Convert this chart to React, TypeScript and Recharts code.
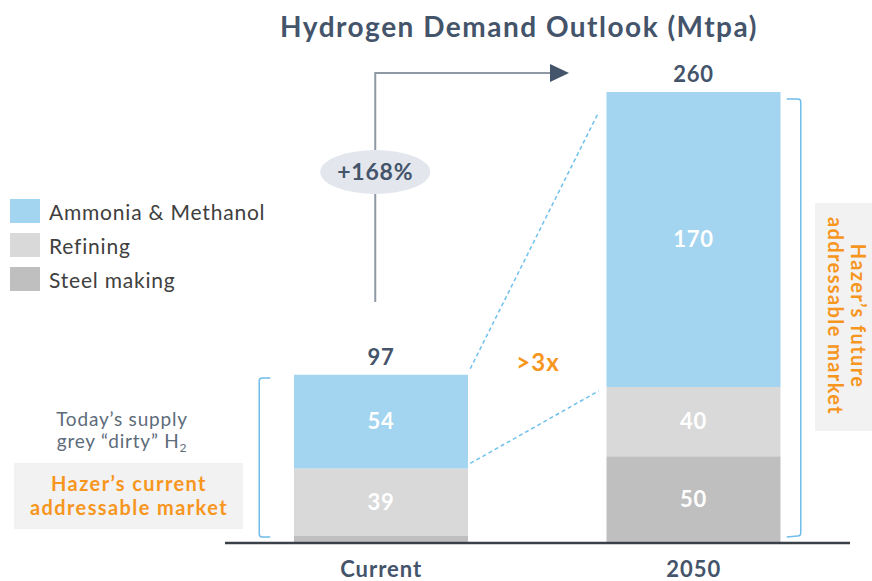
import { Bar, BarChart, LabelList, Legend, XAxis, YAxis } from "recharts";

const categories = ["Current", "2050"];
const steel = [4, 50];
const refining = [39, 40];
const ammonia = [54, 170];
const totals = [97, 260];
const growth = "+168%";
const multiple = ">3x";

const W = 872;
const H = 581;
const M = { top: 92, right: 22, left: 225, bottom: 8 };
const X_AXIS_H = 30;
const Y_MAX = 260;
const BAR = 174;

const BLUE = "#a3d4f0";
const LIGHT = "#d9d9d9";
const DARK = "#bfbfbf";
const SLATE = "#44546a";
const ORANGE = "#f7961e";
const FONT = "Lato, 'Open Sans', sans-serif";

const data = categories.map((c, i) => ({
  name: c,
  steel: steel[i],
  refining: refining[i],
  ammonia: ammonia[i],
  total: totals[i],
}));

// helpers for the overlay annotations, same geometry as the chart
const plotBottom = H - M.bottom - X_AXIS_H;
const plotH = plotBottom - M.top;
const yPx = (v: number) => plotBottom - (v / Y_MAX) * plotH;
const band = (W - M.left - M.right) / categories.length;
const xCenter = (i: number) => M.left + band * (i + 0.5);

const LEGEND = [
  { label: "Ammonia & Methanol", color: BLUE },
  { label: "Refining", color: LIGHT },
  { label: "Steel making", color: DARK },
];

function LegendBox() {
  return (
    <div style={{ fontFamily: FONT }}>
      {LEGEND.map((l) => (
        <div key={l.label} style={{ display: "flex", alignItems: "center", height: 34 }}>
          <div style={{ width: 30, height: 24, background: l.color, marginRight: 9 }} />
          <span style={{ fontSize: 21, letterSpacing: 0.8, color: "#404040" }}>{l.label}</span>
        </div>
      ))}
    </div>
  );
}

const segLabel = (v: any) => (Number(v) >= 10 ? v : "");

const NOTE = { fontFamily: FONT, fontWeight: 700, fontSize: 20, letterSpacing: 1.4, fill: ORANGE } as const;

function Overlay() {
  const cx0 = xCenter(0);
  const cx1 = xCenter(1);
  const r0 = cx0 + BAR / 2;
  const l1 = cx1 - BAR / 2;
  const r1 = cx1 + BAR / 2;
  const l0 = cx0 - BAR / 2;
  const arrowX = cx0 - 6;
  return (
    <svg width={W} height={H} style={{ position: "absolute", left: 0, top: 0, pointerEvents: "none" }}>
      <text x={519} y={37} textAnchor="middle" fontFamily={FONT} fontWeight={700} fontSize={28} letterSpacing={1.5} fill={SLATE}>
        Hydrogen Demand Outlook (Mtpa)
      </text>
      {/* growth arrow */}
      <path d={`M${arrowX},302 L${arrowX},73 L552,73`} fill="none" stroke="#8e99a5" strokeWidth={2} />
      <polygon points="550,64 569,73 550,82" fill={SLATE} />
      <ellipse cx={arrowX} cy={172} rx={55} ry={22} fill="#e3e7ed" />
      <text x={arrowX} y={180} textAnchor="middle" fontFamily={FONT} fontWeight={700} fontSize={23} letterSpacing={0.8} fill={SLATE}>
        {growth}
      </text>
      {/* dashed zoom lines */}
      <line x1={r0 + 2} y1={yPx(totals[0]) - 6} x2={l1 - 8} y2={yPx(totals[1]) + 20} stroke="#6fc0ec" strokeWidth={1.5} strokeDasharray="4 3" />
      <line x1={r0 + 2} y1={yPx(steel[0] + refining[0]) - 5} x2={l1 - 8} y2={yPx(steel[1] + refining[1]) + 4} stroke="#6fc0ec" strokeWidth={1.5} strokeDasharray="4 3" />
      <text x={538} y={371} textAnchor="middle" fontFamily={FONT} fontWeight={700} fontSize={24} letterSpacing={1} fill={ORANGE}>
        {multiple}
      </text>
      {/* brackets */}
      <path d={`M${l0 - 24},378 L${l0 - 32},378 Q${l0 - 35},378 ${l0 - 35},381 L${l0 - 35},534 Q${l0 - 35},537 ${l0 - 32},537 L${l0 - 24},537`} fill="none" stroke="#6fbde8" strokeWidth={1.5} />
      <path d={`M${r1 + 6},99 L${r1 + 17},99 Q${r1 + 20},99 ${r1 + 20},102 L${r1 + 20},533 Q${r1 + 20},536 ${r1 + 17},536 L${r1 + 6},537`} fill="none" stroke="#6fbde8" strokeWidth={1.5} />
      {/* left notes */}
      <text x={122} y={426} textAnchor="middle" fontFamily={FONT} fontSize={19} letterSpacing={0.8} fill="#5d6b7a">
        Today’s supply
      </text>
      <text x={122} y={448} textAnchor="middle" fontFamily={FONT} fontSize={19} letterSpacing={0.8} fill="#5d6b7a">
        grey “dirty” H<tspan fontSize={12} dy={4}>2</tspan>
      </text>
      <rect x={14} y={463} width={229} height={66} fill="#f2f2f2" />
      <text x={129} y={491} textAnchor="middle" {...NOTE}>
        Hazer’s current
      </text>
      <text x={129} y={515} textAnchor="middle" {...NOTE}>
        addressable market
      </text>
      {/* right note */}
      <rect x={815} y={203} width={57} height={228} fill="#f2f2f2" />
      <g transform="translate(844,316) rotate(90)">
        <text x={0} y={-7} textAnchor="middle" {...NOTE}>
          Hazer’s future
        </text>
        <text x={0} y={16} textAnchor="middle" {...NOTE}>
          addressable market
        </text>
      </g>
    </svg>
  );
}

export default function App() {
  return (
    <div style={{ position: "absolute", left: 0, top: 0, width: W, height: H, background: "#fff" }}>
      <BarChart width={W} height={H} data={data} margin={M} barSize={BAR}>
        <XAxis
          dataKey="name"
          height={X_AXIS_H}
          tickLine={false}
          axisLine={{ stroke: "#3a4048", strokeWidth: 2.5 }}
          tick={{ fill: SLATE, fontSize: 22, fontWeight: 700, fontFamily: FONT, letterSpacing: 1, dy: 10 }}
        />
        <YAxis hide domain={[0, Y_MAX]} />
        <Legend
          layout="vertical"
          verticalAlign="middle"
          align="center"
          wrapperStyle={{ left: 10, top: 194, width: 280 }}
          content={() => <LegendBox />}
        />
        <Bar dataKey="steel" stackId="a" fill={DARK} isAnimationActive={false}>
          <LabelList dataKey="steel" position="center" formatter={segLabel} fill="#fff" fontSize={22} fontWeight={700} fontFamily={FONT} letterSpacing={0.8} />
        </Bar>
        <Bar dataKey="refining" stackId="a" fill={LIGHT} isAnimationActive={false}>
          <LabelList dataKey="refining" position="center" formatter={segLabel} fill="#fff" fontSize={22} fontWeight={700} fontFamily={FONT} letterSpacing={0.8} />
        </Bar>
        <Bar dataKey="ammonia" stackId="a" fill={BLUE} isAnimationActive={false}>
          <LabelList dataKey="ammonia" position="center" formatter={segLabel} fill="#fff" fontSize={22} fontWeight={700} fontFamily={FONT} letterSpacing={0.8} />
          <LabelList dataKey="total" position="top" offset={10} fill={SLATE} fontSize={22} fontWeight={700} fontFamily={FONT} letterSpacing={0.8} />
        </Bar>
      </BarChart>
      <Overlay />
    </div>
  );
}
